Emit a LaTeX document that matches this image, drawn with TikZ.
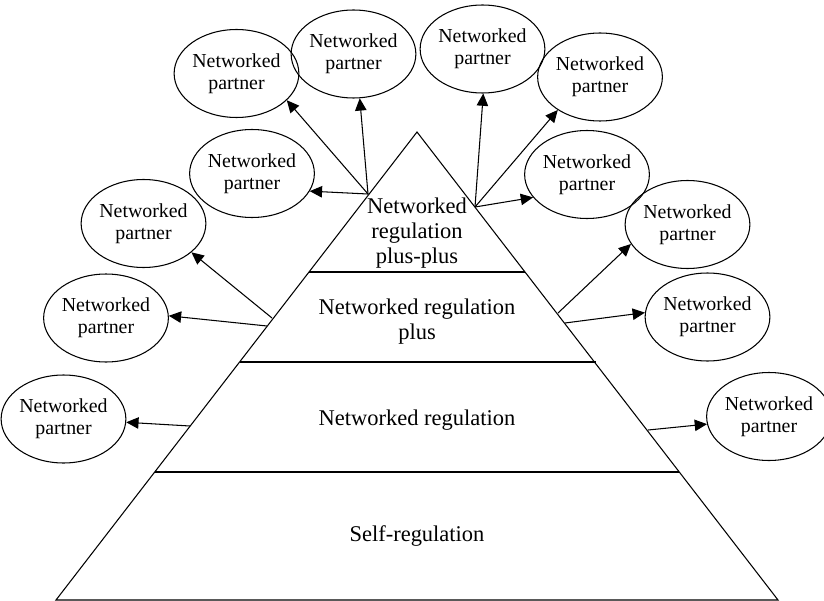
\documentclass[tikz,border=0pt]{standalone}
\usepackage{fontspec}
\setmainfont{Liberation Serif}
\usetikzlibrary{shapes.geometric, arrows.meta, positioning}

\begin{document}
\begin{tikzpicture}[
    x=0.02cm, y=-0.02cm,
    partner/.style={ellipse, draw=black, line width=0.6pt, inner sep=0pt,
                    minimum width=2.26cm, minimum height=1.76cm, align=center,
                    font=\fontsize{11.3}{12.3}\selectfont},
    tier/.style={align=center, font=\fontsize{12.8}{14.2}\selectfont},
    link/.style={draw, line width=0.6pt, -{Triangle[length=7pt, width=6.5pt]}}
]
\useasboundingbox (0,0) rectangle (824,601);

% pyramid and its layers
\coordinate (apex) at (417,132);
\coordinate (bl) at (56,600);
\coordinate (br) at (778,600);
\draw[line width=0.6pt] (apex) -- (bl) -- (br) -- cycle;
\coordinate (l1) at (309,272);  \coordinate (r1) at (525,272);
\coordinate (l2) at (240,362);  \coordinate (r2) at (596,362);
\coordinate (l3) at (155,472);  \coordinate (r3) at (679,472);
\draw[line width=0.6pt] (l1) -- (r1);
\draw[line width=0.6pt] (l2) -- (r2);
\draw[line width=0.6pt] (l3) -- (r3);

\node[tier] (pluspl) at (417,233) {Networked\\regulation\\plus-plus};
\node[tier] (plus) at (417,322) {Networked regulation\\plus};
\node[tier] (netreg) at (417,420) {Networked regulation};
\node[tier] (selfreg) at (417,536) {Self-regulation};

% partners
\node[partner] (p1) at (236.5,73.5) {Networked\\partner};
\node[partner] (p2) at (353.5,54) {Networked\\partner};
\node[partner] (p3) at (252,173.5) {Networked\\partner};
\node[partner] (p4) at (482.5,49) {Networked\\partner};
\node[partner] (p5) at (600,77) {Networked\\partner};
\node[partner] (p6) at (587,174.5) {Networked\\partner};
\node[partner] (p7) at (687.5,224.5) {Networked\\partner};
\node[partner] (p8) at (707.5,317) {Networked\\partner};
\node[partner, minimum width=2.16cm] (p9) at (769,416.5) {Networked\\partner};
\node[partner] (pa) at (143.5,223.5) {Networked\\partner};
\node[partner] (pb) at (106,318) {Networked\\partner};
\node[partner] (pc) at (63.5,419) {Networked\\partner};

% arrow origins on the pyramid
\coordinate (o1) at (368,194);
\coordinate (o2) at (475,207);
\coordinate (o3) at (272,318);
\coordinate (o4) at (267,326);
\coordinate (o5) at (558,313);
\coordinate (o6) at (565,323);
\coordinate (o7) at (190,426);
\coordinate (o8) at (648,430);

\draw[link] (o1) -- (p1.-28);
\draw[link] (o1) -- (p2.-82);
\draw[link] (o1) -- (p3.-17);
\draw[link] (o2) -- (p4.-89);
\draw[link] (o2) -- (p5.218);
\draw[link] (o2) -- (p6.203);
\draw[link] (o3) -- (pa.-31);
\draw[link] (o4) -- (pb.2);
\draw[link] (o5) -- (p7.199);
\draw[link] (o6) -- (p8.176);
\draw[link] (o7) -- (pc.-3);
\draw[link] (o8) -- (p9.187);
\end{tikzpicture}
\end{document}
